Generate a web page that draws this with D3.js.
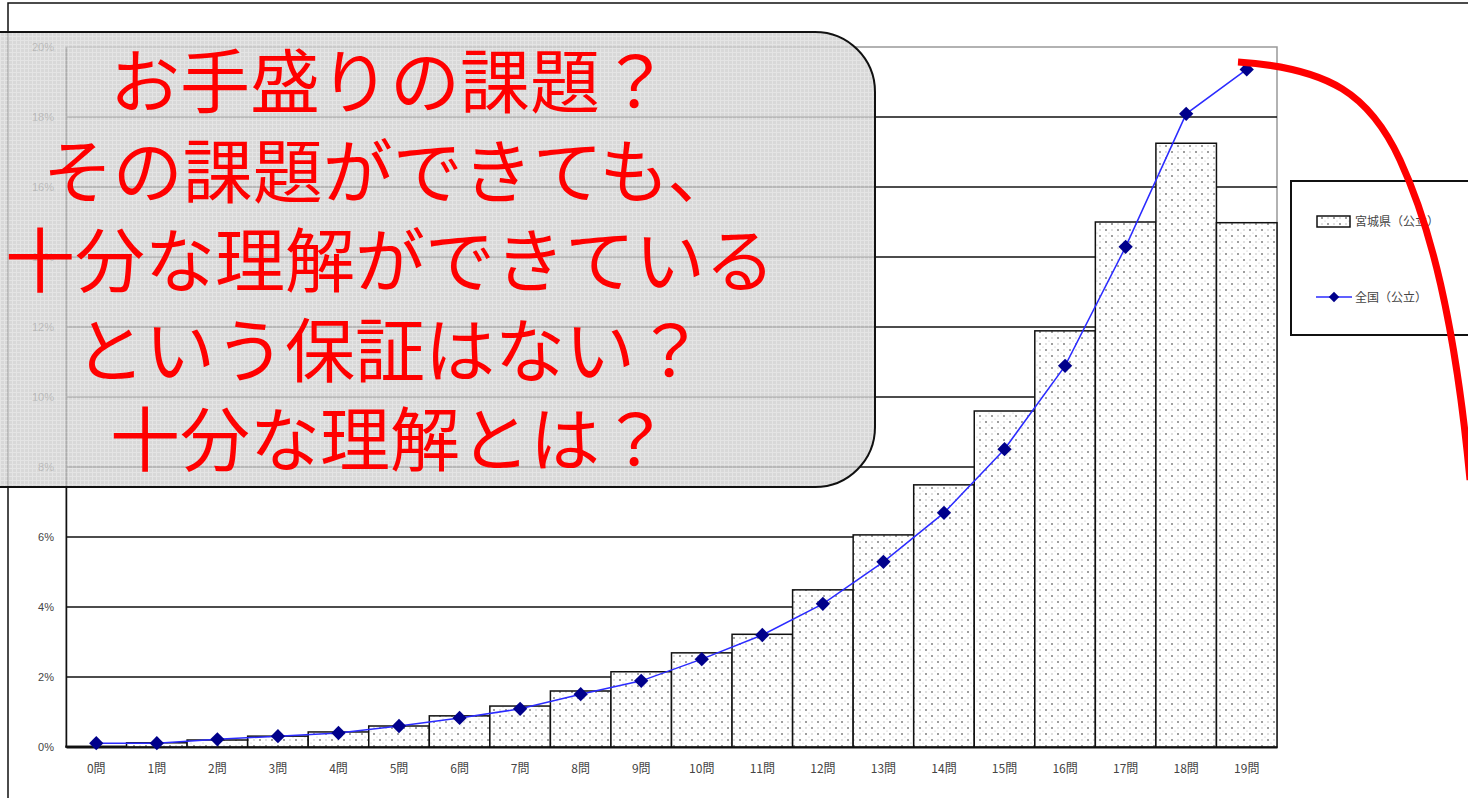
<!DOCTYPE html>
<html>
<head>
<meta charset="utf-8">
<script src="https://cdn.jsdelivr.net/npm/d3@7"></script>
<style>
  body { margin: 0; background: #fff; overflow: hidden; }
  svg { display: block; }
</style>
</head>
<body>
<div id="chart"></div>
<script>
// categories and values (percent of students by number of correct answers)
const questions = ["0問", "1問", "2問", "3問", "4問", "5問", "6問", "7問", "8問", "9問",
  "10問", "11問", "12問", "13問", "14問", "15問", "16問", "17問", "18問", "19問"];
const miyagi = [0.02, 0.12, 0.2, 0.31, 0.43, 0.6, 0.89, 1.17, 1.6, 2.15,
  2.69, 3.22, 4.49, 6.06, 7.49, 9.6, 11.89, 15.0, 17.25, 14.98];
const national = [0.11, 0.11, 0.22, 0.31, 0.4, 0.6, 0.83, 1.09, 1.51, 1.89,
  2.51, 3.2, 4.09, 5.29, 6.69, 8.51, 10.89, 14.29, 18.09, 19.36];
const yTicks = [0, 2, 4, 6, 8, 10, 12, 14, 16, 18, 20];
const seriesNames = ["宮城県（公立）", "全国（公立）"];
const noteLines = ["お手盛りの課題？", "その課題ができても、", "十分な理解ができている",
  "という保証はない？", "十分な理解とは？"];

function drawChart() {
  const width = 1468;
  const height = 798;
  const plot = { left: 66, right: 1277, top: 47, bottom: 747 };

  const svg = d3.select("#chart")
    .append("svg")
    .attr("width", width)
    .attr("height", height)
    .attr("viewBox", [0, 0, width, height])
    .style("font-family", "'Noto Sans CJK JP', 'Noto Sans', sans-serif");

  const defs = svg.append("defs");

  // dotted fill of the bars
  const dots = defs.append("pattern")
    .attr("id", "dots")
    .attr("patternUnits", "userSpaceOnUse")
    .attr("width", 12).attr("height", 12);
  dots.append("rect").attr("width", 12).attr("height", 12).attr("fill", "#fff");
  dots.append("circle").attr("cx", 2).attr("cy", 2).attr("r", 0.8).attr("fill", "#222");
  dots.append("circle").attr("cx", 8).attr("cy", 8).attr("r", 0.8).attr("fill", "#222");
  dots.append("circle").attr("cx", 8).attr("cy", 2).attr("r", 0.7).attr("fill", "#aaa");
  dots.append("circle").attr("cx", 2).attr("cy", 8).attr("r", 0.7).attr("fill", "#aaa");
  dots.append("circle").attr("cx", 5).attr("cy", 5).attr("r", 0.6).attr("fill", "#bbb");
  dots.append("circle").attr("cx", 11).attr("cy", 11).attr("r", 0.6).attr("fill", "#bbb");

  // screen texture of the grey note box
  const screen = defs.append("pattern")
    .attr("id", "screen")
    .attr("patternUnits", "userSpaceOnUse")
    .attr("width", 4).attr("height", 4);
  screen.append("rect").attr("width", 4).attr("height", 4).attr("fill", "#cfcfcf");
  screen.append("rect").attr("width", 4).attr("height", 1).attr("fill", "#dedede");
  screen.append("rect").attr("width", 1).attr("height", 4).attr("fill", "#dedede");

  // outer frame of the sheet
  svg.append("rect")
    .attr("x", 8).attr("y", 3)
    .attr("width", 1600).attr("height", 900)
    .attr("fill", "none")
    .attr("stroke", "#111")
    .attr("stroke-width", 1.5);

  const x = d3.scaleBand()
    .domain(questions)
    .range([plot.left, plot.right])
    .padding(0);

  const y = d3.scaleLinear()
    .domain([0, 20])
    .range([plot.bottom, plot.top]);

  // plot area border
  svg.append("rect")
    .attr("x", plot.left).attr("y", plot.top)
    .attr("width", plot.right - plot.left)
    .attr("height", plot.bottom - plot.top)
    .attr("fill", "#fff")
    .attr("stroke", "#999")
    .attr("stroke-width", 1.5);

  // gridlines
  svg.append("g")
    .selectAll("line")
    .data(yTicks.filter((d) => d > 0 && d < 20))
    .join("line")
    .attr("x1", plot.left).attr("x2", plot.right)
    .attr("y1", (d) => y(d)).attr("y2", (d) => y(d))
    .attr("stroke", "#111")
    .attr("stroke-width", 1.5);

  // bars
  svg.append("g")
    .selectAll("rect")
    .data(miyagi)
    .join("rect")
    .attr("x", (d, i) => x(questions[i]))
    .attr("y", (d) => y(d))
    .attr("width", x.bandwidth())
    .attr("height", (d) => y(0) - y(d))
    .attr("fill", "url(#dots)")
    .attr("stroke", "#111")
    .attr("stroke-width", 1.5);

  // axes
  const yAxis = svg.append("g")
    .attr("transform", `translate(${plot.left},0)`)
    .call(d3.axisLeft(y).tickValues(yTicks).tickSize(0).tickPadding(12)
      .tickFormat((d) => d + "%"));
  yAxis.select(".domain").attr("stroke", "#111").attr("stroke-width", 1.5);
  yAxis.selectAll("text").attr("font-size", 11).attr("fill", "#444")
    .attr("font-family", "'Liberation Sans', Arial, sans-serif");

  const xAxis = svg.append("g")
    .attr("transform", `translate(0,${plot.bottom})`)
    .call(d3.axisBottom(x).tickSize(0).tickPadding(17));
  xAxis.select(".domain").attr("stroke", "#111").attr("stroke-width", 2);
  xAxis.selectAll("text").attr("font-size", 12).attr("fill", "#444")
    .attr("font-family", "'Noto Sans CJK JP', sans-serif");

  // national line with diamonds
  const line = d3.line()
    .x((d, i) => x(questions[i]) + x.bandwidth() / 2)
    .y((d) => y(d));

  svg.append("path")
    .datum(national)
    .attr("d", line)
    .attr("fill", "none")
    .attr("stroke", "#2b2bff")
    .attr("stroke-width", 1.5);

  const diamond = d3.symbol().type(d3.symbolDiamond2).size(130);
  svg.append("g")
    .selectAll("path")
    .data(national)
    .join("path")
    .attr("transform", (d, i) => `translate(${x(questions[i]) + x.bandwidth() / 2},${y(d)})`)
    .attr("d", diamond)
    .attr("fill", "#00008b");

  // legend
  const legend = svg.append("g");
  legend.append("rect")
    .attr("x", 1291).attr("y", 181)
    .attr("width", 240).attr("height", 154)
    .attr("fill", "#fff")
    .attr("stroke", "#111")
    .attr("stroke-width", 2);
  legend.append("rect")
    .attr("x", 1317).attr("y", 216)
    .attr("width", 33).attr("height", 11)
    .attr("fill", "url(#dots)")
    .attr("stroke", "#111")
    .attr("stroke-width", 1.5);
  legend.append("line")
    .attr("x1", 1316).attr("x2", 1352)
    .attr("y1", 297).attr("y2", 297)
    .attr("stroke", "#2b2bff")
    .attr("stroke-width", 1.5);
  legend.append("path")
    .attr("transform", "translate(1334,297)")
    .attr("d", d3.symbol().type(d3.symbolDiamond2).size(70))
    .attr("fill", "#00008b");
  legend.selectAll("text")
    .data(seriesNames)
    .join("text")
    .attr("x", 1355)
    .attr("y", (d, i) => (i === 0 ? 226 : 302))
    .attr("font-size", 12)
    .attr("fill", "#444")
    .text((d) => d);

  // grey note box over the chart
  const note = svg.append("g");
  note.append("path")
    .attr("d", "M-20,32 H815 A60,60 0 0 1 875,92 V427 A60,60 0 0 1 815,487 H-20 Z")
    .attr("fill", "url(#screen)")
    .attr("fill-opacity", 0.82)
    .attr("stroke", "#111")
    .attr("stroke-width", 2);
  note.selectAll("text")
    .data(noteLines)
    .join("text")
    .attr("x", 390)
    .attr("y", (d, i) => 108 + i * 89.5)
    .attr("text-anchor", "middle")
    .attr("font-size", 70)
    .attr("fill", "#ff0000")
    .text((d) => d);

  // red pointer curve
  svg.append("path")
    .attr("d", "M1238,62 C1330,68 1370,95 1400,160 C1430,225 1455,320 1470,480")
    .attr("fill", "none")
    .attr("stroke", "#ff0000")
    .attr("stroke-width", 7);

  return svg.node();
}

window.onload = function () {
  drawChart();
};
</script>
</body>
</html>
